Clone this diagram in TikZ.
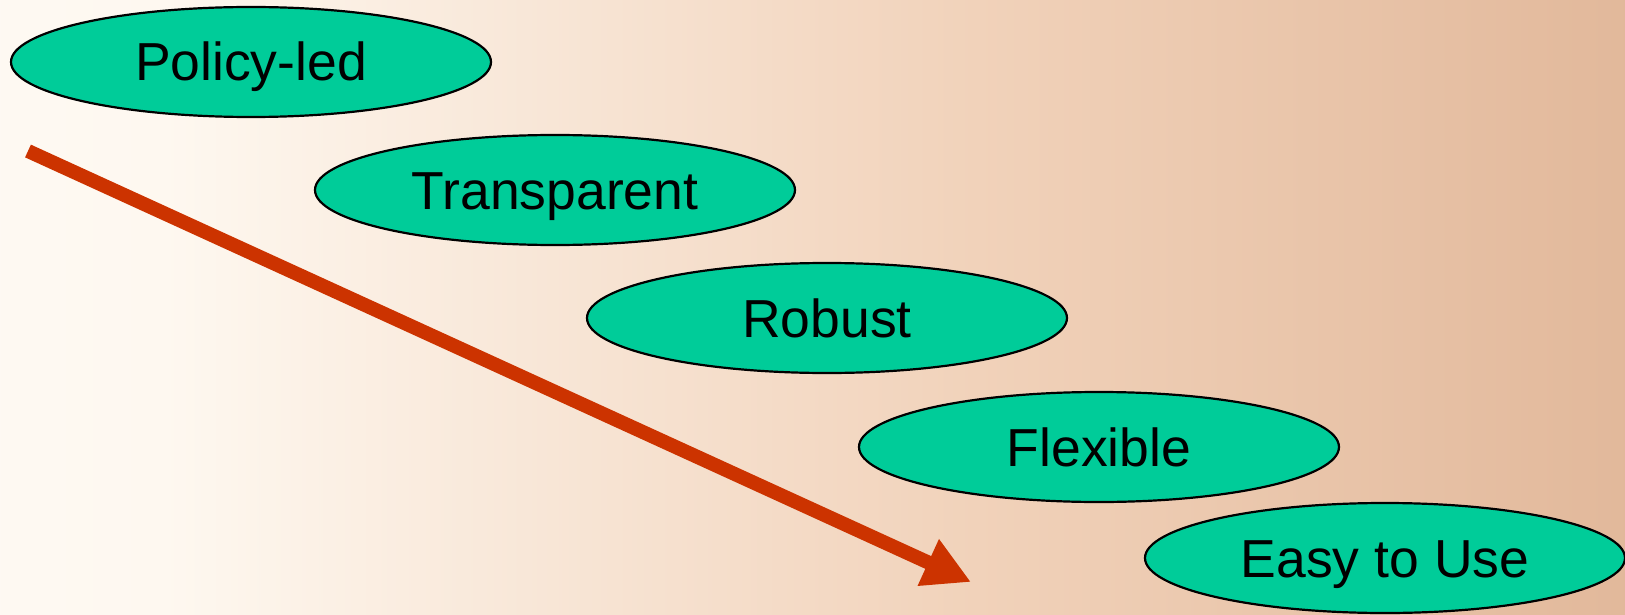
\documentclass[tikz,border=0pt]{standalone}
\usepackage{fontspec}
\setmainfont{Liberation Sans}
\usetikzlibrary{shapes.geometric,arrows.meta}
\definecolor{ovalfill}{HTML}{00CC99}
\definecolor{arrowred}{HTML}{CC3300}
\definecolor{bgA}{HTML}{FEF8F0}
\definecolor{bgB}{HTML}{F1D2BA}
\definecolor{bgright}{HTML}{DEB293}
\pgfdeclarehorizontalshading{bgshade}{100bp}{color(0bp)=(white); color(30bp)=(bgA); color(55bp)=(bgB); color(80bp)=(bgright); color(100bp)=(bgright)}
\tikzset{
  oval/.style={ellipse, draw=black, line width=2.2pt, fill=ovalfill,
    minimum width=480pt, minimum height=110pt, inner sep=0pt,
    font=\fontsize{53.5}{60}\selectfont, text=black,
    text height=38pt, text depth=0pt},
  bigarrow/.style={draw=arrowred, line width=14pt,
    -{Triangle[length=47pt,width=48pt]}}
}
\begin{document}
\begin{tikzpicture}[x=1pt,y=-1pt]
\useasboundingbox (0,0) rectangle (1625,615);
\shade[shading=bgshade] (0,0) rectangle (1625,615);
\node[oval] (policy) at (251,62) {Policy-led};
\node[oval] (transp) at (555,190) {Transparent};
\node[oval] (robust) at (827,318) {Robust};
\node[oval] (flex) at (1099,447) {Flexible};
\node[oval] (easy) at (1385,558) {Easy to Use};
\coordinate (astart) at (28,151);
\coordinate (aend) at (971,582);
\draw[bigarrow] (astart) -- (aend);
\end{tikzpicture}
\end{document}
